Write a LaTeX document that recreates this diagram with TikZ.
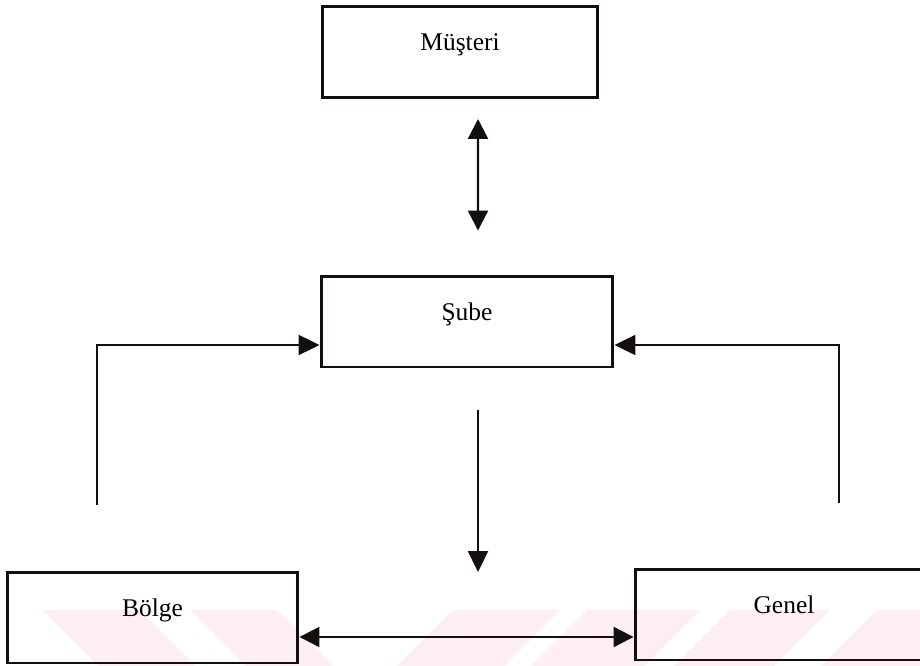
\documentclass[tikz,border=0pt]{standalone}
\usepackage{fontspec}
\setmainfont{Liberation Serif}
\usepackage{tikz}
\usetikzlibrary{arrows.meta, positioning, calc}
\definecolor{mydark}{RGB}{20,15,15}
\definecolor{stripe}{RGB}{253,238,241}
\tikzset{
  box/.style={rectangle, draw=mydark, line width=1.7pt, inner sep=0pt,
    minimum height=1.82cm, text height=0.88cm, text depth=0.94cm,
    font=\fontsize{14.5}{16}\selectfont},
  arrow/.style={-{Triangle[length=0.42cm, width=0.4cm]}, line width=1.3pt, color=mydark},
  darrow/.style={{Triangle[length=0.4cm, width=0.4cm]}-{Triangle[length=0.4cm, width=0.4cm]},
    line width=1.3pt, color=mydark},
  band/.style={fill=stripe, draw=none}
}

\begin{document}
\begin{tikzpicture}[x=0.02cm, y=-0.02cm]
  \useasboundingbox (0,0) rectangle (920,666);
  \clip (0,0) rectangle (920,666);
  % watermark bands
  \fill[band] (43,610) -- (140,610) -- (196,666) -- (99,666) -- cycle;
  \fill[band] (190,610) -- (277,610) -- (333,666) -- (246,666) -- cycle;
  \foreach \a/\b in {453/560, 587/700, 730/830, 877/980}
    \fill[band] (\a,610) -- (\b,610) -- ({\b-56},666) -- ({\a-56},666) -- cycle;
  % boxes
  \node[box, minimum width=5.52cm] (musteri) at (460,52) {Müşteri};
  \node[box, minimum width=5.84cm] (sube) at (467,321.5) {Şube};
  \node[box, minimum width=5.82cm] (bolge) at (152.5,617.5) {Bölge};
  \node[box, minimum width=5.96cm] (genel) at (784,614.5) {Genel};
  \coordinate (lfoot) at (97,505);
  \coordinate (rfoot) at (839,503);
  \coordinate (dtop) at (478,410);
  \coordinate (dtip) at (478,572);
  % connectors
  \draw[darrow] ([xshift=0.36cm, yshift=-0.4cm]musteri.south) -- ([xshift=0.22cm, yshift=0.88cm]sube.north);
  \draw[arrow] (lfoot) |- ([yshift=-0.47cm]sube.west);
  \draw[arrow] (rfoot) |- ([yshift=-0.47cm]sube.east);
  \draw[arrow] (dtop) -- (dtip);
  \draw[darrow] ([yshift=-0.39cm]bolge.east) -- ([yshift=-0.39cm]bolge.east -| genel.west);
\end{tikzpicture}
\end{document}
